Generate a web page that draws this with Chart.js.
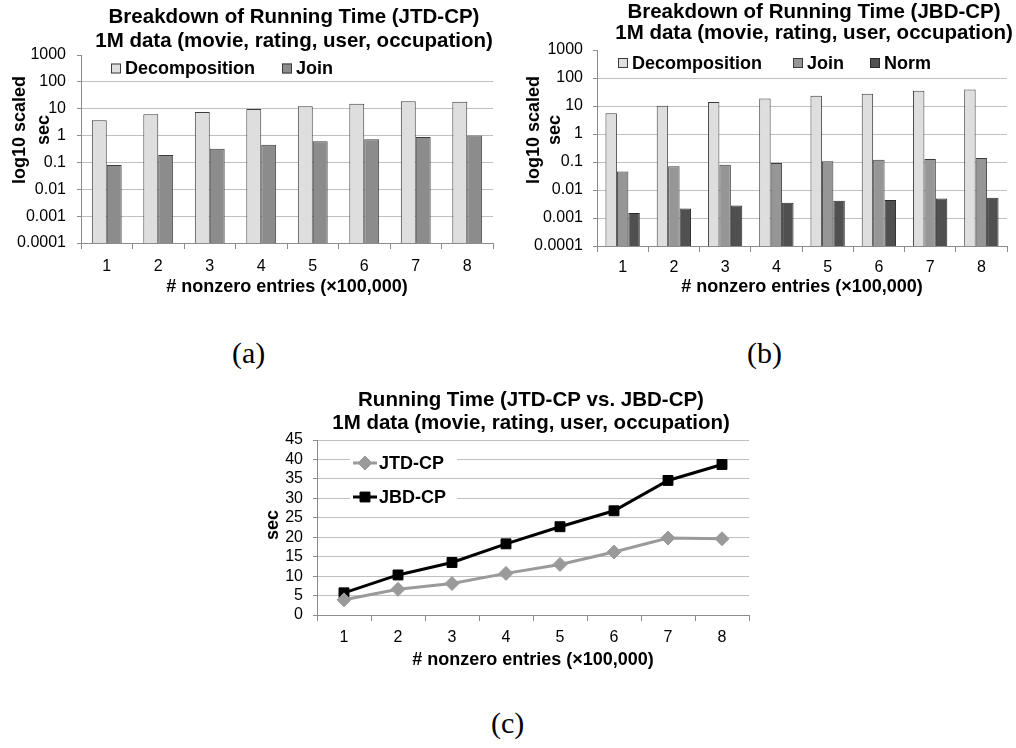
<!DOCTYPE html>
<html lang="en">
<head>
<meta charset="UTF-8" />
<script src="https://cdn.jsdelivr.net/npm/chart.js@4.4.1/dist/chart.umd.min.js"></script>
<title>Running time breakdown</title>
<style>
  body { margin: 0; background: #fff; width: 1016px; height: 748px; position: relative; overflow: hidden; }
  canvas { position: absolute; }
  .cap { position: absolute; font-family: "Liberation Serif", "DejaVu Serif", serif; font-size: 30px; line-height: 30px; color: #000; }
</style>
</head>
<body>
<canvas id="chartA" width="500" height="300" style="left:0;top:0"></canvas>
<canvas id="chartB" width="516" height="300" style="left:500px;top:0"></canvas>
<canvas id="chartC" width="510" height="300" style="left:250px;top:380px"></canvas>
<div class="cap" style="left:232px;top:338px">(a)</div>
<div class="cap" style="left:747px;top:338px">(b)</div>
<div class="cap" style="left:491px;top:708px">(c)</div>
<script>
const xLabels = ['1', '2', '3', '4', '5', '6', '7', '8'];
const logTicks = [0.0001, 0.001, 0.01, 0.1, 1, 10, 100, 1000];
const logTickLabels = ['0.0001', '0.001', '0.01', '0.1', '1', '10', '100', '1000'];

// (a) JTD-CP breakdown
const jtdDecomposition = [3.7, 6.2, 7.5, 9.8, 12.4, 15.3, 19.0, 18.3];
const jtdJoin = [0.08, 0.19, 0.32, 0.46, 0.61, 0.73, 0.89, 1.0];
// (b) JBD-CP breakdown
const jbdDecomposition = [5.5, 10.2, 13.8, 18.5, 23.0, 27.2, 35.0, 38.6];
const jbdJoin = [0.046, 0.07, 0.08, 0.092, 0.106, 0.12, 0.128, 0.14];
const jbdNorm = [0.0015, 0.0022, 0.0028, 0.0035, 0.0041, 0.0044, 0.005, 0.0053];
// (c) totals
const jtdTotal = [3.9, 6.6, 8.1, 10.7, 13.0, 16.2, 19.8, 19.6];
const jbdTotal = [5.7, 10.3, 13.5, 18.3, 22.7, 26.8, 34.6, 38.7];

const FONT = '"Liberation Sans", Arial, sans-serif';
Chart.defaults.font.family = FONT;
Chart.defaults.color = '#000';

// free text: titles and side titles
const textLayer = {
  id: 'textLayer',
  afterDraw(chart, args, opts) {
    const ctx = chart.ctx;
    (opts.items || []).forEach(it => {
      ctx.save();
      ctx.font = it.font;
      ctx.fillStyle = '#000';
      ctx.textAlign = 'center';
      ctx.textBaseline = 'middle';
      ctx.translate(it.x, it.y);
      if (it.rotate) ctx.rotate(-Math.PI / 2);
      ctx.fillText(it.text, 0, 0);
      ctx.restore();
    });
  }
};

// legend drawn inside the plot, like the original
const innerLegend = {
  id: 'innerLegend',
  afterDraw(chart, args, opts) {
    if (!opts.xs) return;
    const {ctx, chartArea} = chart;
    ctx.save();
    ctx.font = 'bold 18px ' + FONT;
    ctx.textBaseline = 'middle';
    ctx.textAlign = 'left';
    chart.data.datasets.forEach((ds, i) => {
      const x = chartArea.left + opts.xs[i];
      const y = chartArea.top + opts.ys[i];
      if (opts.kind === 'box') {
        ctx.fillStyle = ds.backgroundColor;
        ctx.strokeStyle = ds.borderColor;
        ctx.lineWidth = 1;
        ctx.fillRect(x, y - 5, 10, 10);
        ctx.strokeRect(x + 0.5, y - 4.5, 9, 9);
        ctx.fillStyle = '#000';
        ctx.fillText(ds.label, x + 14, y + 1);
      } else {
        ctx.fillStyle = '#fff';
        ctx.fillRect(x - 3, y - 11, 107, 22);
        ctx.strokeStyle = ds.borderColor;
        ctx.lineWidth = ds.borderWidth;
        ctx.beginPath();
        ctx.moveTo(x, y);
        ctx.lineTo(x + 24, y);
        ctx.stroke();
        ctx.fillStyle = ds.backgroundColor;
        ctx.lineWidth = 1;
        Chart.helpers.drawPoint(ctx, {pointStyle: ds.pointStyle, radius: ds.pointRadius, rotation: 0, borderWidth: 1}, x + 12, y);
        ctx.fillStyle = '#000';
        ctx.fillText(ds.label, x + 26, y + 1);
      }
    });
    ctx.restore();
  }
};

function xScale(g) {
  return {
    offset: true,
    grid: {offset: true, drawOnChartArea: false, color: '#8c8c8c', tickLength: 6},
    border: {color: '#8c8c8c'},
    ticks: {font: {size: 16}, color: '#000', padding: g.xPad, autoSkip: false, maxRotation: 0},
    title: {display: true, text: '# nonzero entries (×100,000)', font: {size: 18, weight: 'bold'}, padding: {top: 0, bottom: g.tPad}},
    afterFit: s => { s.height = g.h - g.bottom; }
  };
}

function logScale(g) {
  return {
    type: 'logarithmic',
    min: 0.0001,
    max: 1000,
    afterBuildTicks: s => { s.ticks = logTicks.map(v => ({value: v})); },
    afterFit: s => { s.width = g.left; },
    ticks: {font: {size: 16}, color: '#000', padding: g.yPad, autoSkip: false, callback: v => logTickLabels[logTicks.indexOf(v)]},
    grid: {
      color: c => (c.tick && c.tick.value === 1000) ? 'rgba(0,0,0,0)' : '#c0c0c0',
      tickColor: '#8c8c8c',
      tickLength: 4
    },
    border: {color: '#8c8c8c'}
  };
}

function common(g, items, legend) {
  return {
    responsive: false,
    animation: false,
    layout: {padding: {top: g.top, right: g.w - g.right, left: 0, bottom: 0}},
    plugins: {
      legend: {display: false},
      title: {display: false},
      tooltip: {enabled: false},
      textLayer: {items: items},
      innerLegend: legend
    }
  };
}

// chart (a)
const gA = {w: 500, h: 300, left: 81, right: 493, top: 55, bottom: 243, xPad: 8, tPad: 2, yPad: 11};
const optA = common(gA, [
  {text: 'Breakdown of Running Time (JTD-CP)', x: 294, y: 17, font: 'bold 20.5px ' + FONT},
  {text: '1M data (movie, rating, user, occupation)', x: 294, y: 41, font: 'bold 20.5px ' + FONT},
  {text: 'log10 scaled', x: 20, y: 130, font: 'bold 18px ' + FONT, rotate: true},
  {text: 'sec', x: 44, y: 130, font: 'bold 18px ' + FONT, rotate: true}
], {kind: 'box', xs: [30, 201], ys: [13.5, 13.5]});
optA.scales = {x: xScale(gA), y: logScale(gA)};
new Chart(document.getElementById('chartA'), {
  type: 'bar',
  data: {
    labels: xLabels,
    datasets: [
      {label: 'Decomposition', data: jtdDecomposition, backgroundColor: '#dedede', borderColor: '#3c3c3c', borderWidth: 1, barPercentage: 1, categoryPercentage: 0.58},
      {label: 'Join', data: jtdJoin, backgroundColor: '#8c8c8c', borderColor: '#3c3c3c', borderWidth: 1, barPercentage: 1, categoryPercentage: 0.58}
    ]
  },
  options: optA,
  plugins: [textLayer, innerLegend]
});

// chart (b)
const gB = {w: 516, h: 300, left: 97, right: 507, top: 50, bottom: 246, xPad: 6, tPad: 2, yPad: 10};
const optB = common(gB, [
  {text: 'Breakdown of Running Time (JBD-CP)', x: 314, y: 12, font: 'bold 20.5px ' + FONT},
  {text: '1M data (movie, rating, user, occupation)', x: 314, y: 33, font: 'bold 20.5px ' + FONT},
  {text: 'log10 scaled', x: 34, y: 130, font: 'bold 18px ' + FONT, rotate: true},
  {text: 'sec', x: 55, y: 130, font: 'bold 18px ' + FONT, rotate: true}
], {kind: 'box', xs: [21, 196, 273], ys: [13, 13, 13]});
optB.scales = {x: xScale(gB), y: logScale(gB)};
new Chart(document.getElementById('chartB'), {
  type: 'bar',
  data: {
    labels: xLabels,
    datasets: [
      {label: 'Decomposition', data: jbdDecomposition, backgroundColor: '#dedede', borderColor: '#3c3c3c', borderWidth: 1, barPercentage: 1, categoryPercentage: 0.67},
      {label: 'Join', data: jbdJoin, backgroundColor: '#969696', borderColor: '#3c3c3c', borderWidth: 1, barPercentage: 1, categoryPercentage: 0.67},
      {label: 'Norm', data: jbdNorm, backgroundColor: '#505050', borderColor: '#2a2a2a', borderWidth: 1, barPercentage: 1, categoryPercentage: 0.67}
    ]
  },
  options: optB,
  plugins: [textLayer, innerLegend]
});

// chart (c)
const gC = {w: 510, h: 300, left: 67, right: 499, top: 60, bottom: 235, xPad: 7, tPad: 9, yPad: 10};
const optC = common(gC, [
  {text: 'Running Time (JTD-CP vs. JBD-CP)', x: 281, y: 20, font: 'bold 20.5px ' + FONT},
  {text: '1M data (movie, rating, user, occupation)', x: 281, y: 43, font: 'bold 20.5px ' + FONT},
  {text: 'sec', x: 23, y: 145, font: 'bold 18px ' + FONT, rotate: true}
], {kind: 'line', xs: [36, 36], ys: [23, 57]});
optC.scales = {
  x: xScale(gC),
  y: {
    min: 0,
    max: 45,
    ticks: {stepSize: 5, autoSkip: false, font: {size: 16}, color: '#000', padding: gC.yPad},
    afterFit: s => { s.width = gC.left; },
    grid: {color: '#c0c0c0', tickColor: '#8c8c8c', tickLength: 4},
    border: {color: '#8c8c8c'}
  }
};
new Chart(document.getElementById('chartC'), {
  type: 'line',
  data: {
    labels: xLabels,
    datasets: [
      {label: 'JTD-CP', data: jtdTotal, borderColor: '#9a9a9a', backgroundColor: '#9a9a9a', borderWidth: 3, pointStyle: 'rectRot', pointRadius: 7, pointBorderWidth: 1, tension: 0},
      {label: 'JBD-CP', data: jbdTotal, borderColor: '#000000', backgroundColor: '#000000', borderWidth: 3, pointStyle: 'rect', pointRadius: 7, pointBorderWidth: 1, tension: 0}
    ]
  },
  options: optC,
  plugins: [textLayer, innerLegend]
});
</script>
</body>
</html>
